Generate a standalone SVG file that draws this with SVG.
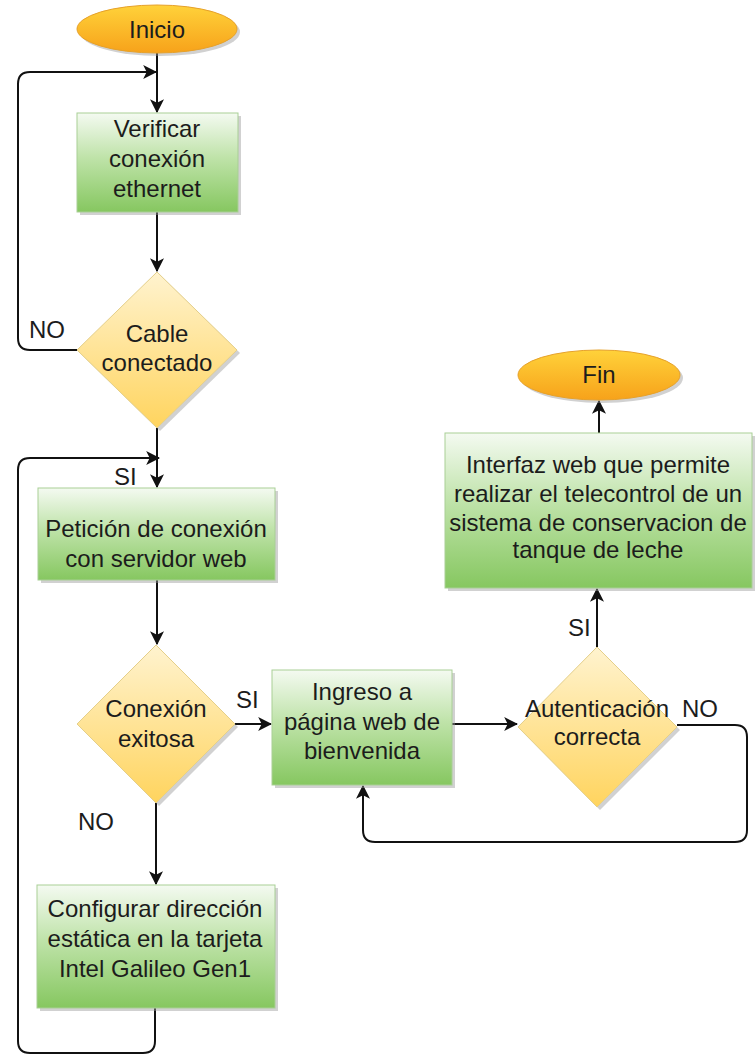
<svg xmlns="http://www.w3.org/2000/svg" width="755" height="1059" viewBox="0 0 755 1059">
  <style>
    text { font-family: "Liberation Sans", Arial, Helvetica, sans-serif; font-size: 24px; fill: #1c1c1c; text-anchor: middle; }
    .lbl { text-anchor: start; }
    .proc { fill: url(#gGreen); stroke: #a9cf96; stroke-width: 1; }
    .dec { fill: url(#gYellow); stroke: #e4cf8a; stroke-width: 1; }
    .term { fill: url(#gOrange); stroke: #e6a12a; stroke-width: 1; }
    .shadow { fill: #9a9a9a; opacity: 0.45; }
    .edge { fill: none; stroke: #111; stroke-width: 2; }
  </style>
  <defs>
    <linearGradient id="gGreen" x1="0" y1="0" x2="0" y2="1">
      <stop offset="0" stop-color="#f4faf1"/>
      <stop offset="0.45" stop-color="#bfe3a9"/>
      <stop offset="1" stop-color="#86c760"/>
    </linearGradient>
    <linearGradient id="gYellow" x1="0" y1="0" x2="0" y2="1">
      <stop offset="0" stop-color="#fff3cf"/>
      <stop offset="1" stop-color="#ffd45e"/>
    </linearGradient>
    <linearGradient id="gOrange" x1="0" y1="0" x2="0" y2="1">
      <stop offset="0" stop-color="#ffd23a"/>
      <stop offset="1" stop-color="#f7a21a"/>
    </linearGradient>
    <marker id="arrow" markerUnits="userSpaceOnUse" markerWidth="14" markerHeight="14" viewBox="0 0 12 12" refX="11" refY="6" orient="auto">
      <path d="M0,0 L12,6 L0,12 L3,6 Z" fill="#111"/>
    </marker>
  </defs>

  <rect width="755" height="1059" fill="#ffffff"/>

  <!-- connectors -->
  <g id="connectors">
    <path class="edge" d="M157 53 V112" marker-end="url(#arrow)"/>
    <path class="edge" d="M157 212 V271" marker-end="url(#arrow)"/>
    <path class="edge" d="M77 350 H30 Q18 350 18 338 V84 Q18 72 30 72 H156" marker-end="url(#arrow)"/>
    <path class="edge" d="M157 428 V487" marker-end="url(#arrow)"/>
    <path class="edge" d="M155 1008 V1041 Q155 1053 143 1053 H30 Q18 1053 18 1041 V470 Q18 458 30 458 H159" marker-end="url(#arrow)"/>
    <path class="edge" d="M157 580 V644" marker-end="url(#arrow)"/>
    <path class="edge" d="M235 724 H271" marker-end="url(#arrow)"/>
    <path class="edge" d="M156 803 V884" marker-end="url(#arrow)"/>
    <path class="edge" d="M452 724 H517" marker-end="url(#arrow)"/>
    <path class="edge" d="M677 725 H735 Q747 725 747 737 V830 Q747 842 735 842 H375 Q363 842 363 830 V786" marker-end="url(#arrow)"/>
    <path class="edge" d="M597 647 V589" marker-end="url(#arrow)"/>
    <path class="edge" d="M599 433 V401" marker-end="url(#arrow)"/>
  </g>

  <!-- edge labels -->
  <g id="labels">
    <text class="lbl" x="29" y="338">NO</text>
    <text class="lbl" x="114" y="485">SI</text>
    <text class="lbl" x="236" y="708">SI</text>
    <text class="lbl" x="78" y="830">NO</text>
    <text class="lbl" x="568" y="636">SI</text>
    <text class="lbl" x="682" y="717">NO</text>
  </g>

  <g id="inicio">
    <ellipse class="shadow" cx="160" cy="32" rx="80" ry="24"/>
    <ellipse class="term" cx="157" cy="29" rx="80" ry="24"/>
    <text x="157" y="38">Inicio</text>
  </g>

  <g id="verificar">
    <rect class="shadow" x="80" y="116" width="161" height="99"/>
    <rect class="proc" x="77" y="113" width="161" height="99"/>
    <text x="157" y="137">Verificar</text>
    <text x="157" y="167">conexión</text>
    <text x="157" y="197">ethernet</text>
  </g>

  <g id="cable">
    <polygon class="shadow" points="160,275 240,353 160,431 80,353"/>
    <polygon class="dec" points="157,272 237,350 157,428 77,350"/>
    <text x="157" y="342">Cable</text>
    <text x="157" y="371">conectado</text>
  </g>

  <g id="peticion">
    <rect class="shadow" x="41" y="491" width="237" height="92"/>
    <rect class="proc" x="38" y="488" width="237" height="92"/>
    <text x="156" y="537">Petición de conexión</text>
    <text x="156" y="567">con servidor web</text>
  </g>

  <g id="conexion">
    <polygon class="shadow" points="159,648 238,727 159,806 80,727"/>
    <polygon class="dec" points="156,645 235,724 156,803 77,724"/>
    <text x="156" y="717">Conexión</text>
    <text x="156" y="747">exitosa</text>
  </g>

  <g id="configurar">
    <rect class="shadow" x="40" y="888" width="238" height="123"/>
    <rect class="proc" x="37" y="885" width="238" height="123"/>
    <text x="155" y="917">Configurar dirección</text>
    <text x="155" y="947">estática en la tarjeta</text>
    <text x="155" y="977">Intel Galileo Gen1</text>
  </g>

  <g id="ingreso">
    <rect class="shadow" x="275" y="673" width="180" height="115"/>
    <rect class="proc" x="272" y="670" width="180" height="115"/>
    <text x="362" y="700">Ingreso a</text>
    <text x="362" y="730">página web de</text>
    <text x="362" y="759">bienvenida</text>
  </g>

  <g id="autenticacion">
    <polygon class="shadow" points="600,650 680,730 600,810 521,730"/>
    <polygon class="dec" points="597,647 677,727 597,807 518,727"/>
    <text x="597" y="717">Autenticación</text>
    <text x="597" y="745">correcta</text>
  </g>

  <g id="interfaz">
    <rect class="shadow" x="448" y="436" width="307" height="155"/>
    <rect class="proc" x="445" y="433" width="307" height="155"/>
    <text x="598" y="473">Interfaz web que permite</text>
    <text x="598" y="502">realizar el telecontrol de un</text>
    <text x="598" y="531">sistema de conservacion de</text>
    <text x="598" y="558">tanque de leche</text>
  </g>

  <g id="fin">
    <ellipse class="shadow" cx="602" cy="378" rx="81" ry="25"/>
    <ellipse class="term" cx="599" cy="375" rx="81" ry="25"/>
    <text x="599" y="383">Fin</text>
  </g>
</svg>
